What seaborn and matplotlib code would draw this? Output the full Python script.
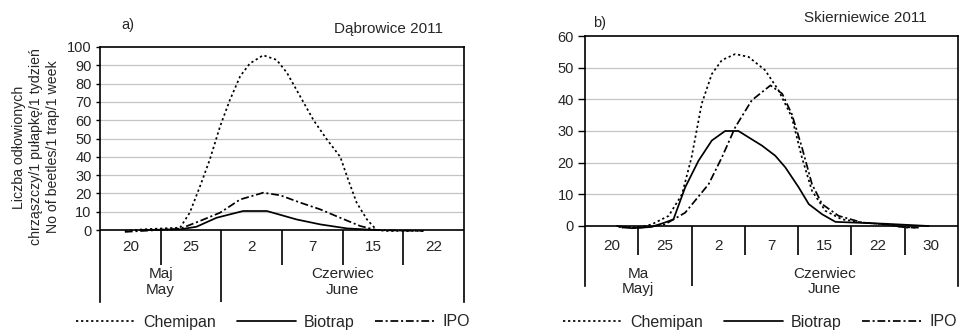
import matplotlib
matplotlib.use("Agg")
import matplotlib.pyplot as plt
import seaborn as sns
import pandas as pd

sns.set_theme(style="white")
plt.rcParams['font.family'] = ['Liberation Sans', 'DejaVu Sans']

# ---------------- data ----------------
series_names = ["Chemipan", "Biotrap", "IPO"]

# Panel a) Dąbrowice 2011 (x = position along the category axis, category centres at 0..5)
days_a = ["20", "25", "2", "7", "15", "22"]
months_a = ["Maj\nMay", "Czerwiec\nJune"]
month_span_a = [2, 4]

chem_a_x = [-0.09, 0.21, 0.82, 0.98, 1.15, 1.31, 1.48, 1.64, 1.81, 1.97, 2.19, 2.41, 2.58,
            2.80, 3.02, 3.24, 3.46, 3.59, 3.73, 3.90, 4.06, 4.23, 4.83]
chem_a_y = [-0.5, 0.4, 1.3, 9.5, 24, 38.5, 56.7, 71, 84, 91, 95.5, 93, 86,
            73, 60, 49.5, 40, 27.6, 15, 5.8, 0, -0.5, -0.5]
bio_a_x = [0.16, 0.82, 1.09, 1.42, 1.86, 2.25, 2.74, 3.13, 3.57, 4.06]
bio_a_y = [0, 0.4, 1.8, 6.7, 10.4, 10.4, 5.8, 3.1, 0.9, 0]
ipo_a_x = [-0.09, 0.82, 1.15, 1.48, 1.81, 2.19, 2.47, 2.80, 3.13, 3.46, 3.79, 4.06, 4.83]
ipo_a_y = [-1, 0.7, 5, 9.5, 16.7, 20.4, 19, 15, 11.3, 6.7, 2.2, 0, -0.5]

# Panel b) Skierniewice 2011 (category centres at 0..6)
days_b = ["20", "25", "2", "7", "15", "22", "30"]
months_b = ["Ma\nMayj", "Czerwiec\nJune"]
month_span_b = [2, 5]

chem_b_x = [0.13, 0.5, 0.75, 1.07, 1.32, 1.5, 1.69, 1.88, 2.07, 2.32, 2.57, 2.88, 3.13,
            3.38, 3.57, 3.76, 4.01, 4.32, 4.70, 5.14, 5.45, 5.70]
chem_b_y = [-0.3, -0.5, 0.5, 3.2, 10, 21.7, 38.6, 48, 52.4, 54.3, 53.4, 49.2, 42.9,
            34.4, 21.7, 11.1, 4.8, 2.1, 1.1, 0.5, -0.3, -0.5]
bio_b_x = [0.1, 0.38, 0.75, 1.0, 1.16, 1.38, 1.63, 1.88, 2.13, 2.38, 2.57, 2.82, 3.07,
           3.26, 3.51, 3.70, 3.95, 4.20, 4.51, 5.14, 5.95]
bio_b_y = [0, -0.7, -0.3, 1.1, 2.1, 12.2, 20.6, 27, 30, 30, 28, 25.4, 22.2,
           18.5, 12.2, 6.9, 3.7, 1.3, 1.1, 0.7, 0]
ipo_b_x = [0.19, 0.56, 1.0, 1.38, 1.82, 2.07, 2.32, 2.63, 2.98, 3.2, 3.38, 3.57, 3.76,
           3.95, 4.26, 4.70, 5.14, 5.52, 5.77]
ipo_b_y = [-0.5, -0.5, 0.5, 4.2, 13.2, 21.7, 31.2, 39.7, 44.4, 41.8, 35.4, 24.9, 13.2,
           6.9, 3.2, 1.1, 0.5, -0.5, -0.5]


def make_df(cx, cy, bx, by, ix, iy):
    frames = []
    for name, xs, ys in zip(series_names, [cx, bx, ix], [cy, by, iy]):
        frames.append(pd.DataFrame({"x": xs, "y": ys, "series": name}))
    return pd.concat(frames, ignore_index=True)


df_a = make_df(chem_a_x, chem_a_y, bio_a_x, bio_a_y, ipo_a_x, ipo_a_y)
df_b = make_df(chem_b_x, chem_b_y, bio_b_x, bio_b_y, ipo_b_x, ipo_b_y)

dashes = {"Chemipan": (1.3, 1.6), "Biotrap": "", "IPO": (4.5, 1.6, 1.2, 1.6)}

fig = plt.figure(figsize=(9.6, 3.32), dpi=100)
ax_a = fig.add_axes([100 / 960, 30 / 332, 364 / 960, 255 / 332])
ax_b = fig.add_axes([585 / 960, 46 / 332, 373 / 960, 250 / 332])

FS = 10.5


def draw_panel(ax, df, days, months, spans, ymax, ystep, ymin, short_len,
               day_y, month_y, ticklen):
    n = len(days)
    sns.lineplot(data=df, x="x", y="y", style="series", style_order=series_names,
                 dashes=dashes, color="black", linewidth=1.25, ax=ax,
                 legend=True, estimator=None, sort=False)
    ax.set_xlim(-0.5, n - 0.5)
    ax.set_ylim(ymin, ymax)
    ax.set_yticks(range(0, ymax + 1, ystep))
    ax.set_xticks([])
    ax.set_xlabel("")
    ax.set_ylabel("")
    for v in range(ystep, ymax, ystep):
        ax.axhline(v, color="#c4c4c4", linewidth=0.9, zorder=0)
    ax.axhline(0, color="black", linewidth=1.2, zorder=1)
    for s in ["left", "right", "top"]:
        ax.spines[s].set_visible(True)
        ax.spines[s].set_color("black")
        ax.spines[s].set_linewidth(1.2)
    ax.spines["bottom"].set_visible(False)
    ax.tick_params(axis="y", left=True, length=ticklen, width=1, color="black",
                   labelsize=FS, pad=3)
    # category table
    month_bounds = []
    acc = 0
    for s in spans:
        acc += s
        month_bounds.append(acc)
    for i in range(1, n):
        y_end = ymin if i in month_bounds else -short_len
        ax.plot([i - 0.5, i - 0.5], [0, y_end], color="black", linewidth=1.2,
                solid_capstyle="butt")
    for i, d in enumerate(days):
        ax.text(i, day_y, d, ha="center", va="center", fontsize=FS + 0.5)
    start = 0
    for m, s in zip(months, spans):
        ax.text(start + s / 2 - 0.5, month_y, m, ha="center", va="center",
                fontsize=FS + 0.5, linespacing=1.15)
        start += s
    handles, labels = ax.get_legend_handles_labels()
    ax.get_legend().remove()
    return handles, labels


h_a, l_a = draw_panel(ax_a, df_a, days_a, months_a, month_span_a, 100, 10, -39.3,
                      19, -9.3, -28.5, 3)
h_b, l_b = draw_panel(ax_b, df_b, days_b, months_b, month_span_b, 60, 10, -18.95,
                      9.2, -6.3, -17.5, 5)

fig.legend(h_a, l_a, loc="center", bbox_to_anchor=(273 / 960, 10 / 332), ncol=3,
           frameon=False, fontsize=FS + 1, handlelength=3.7, handletextpad=0.5,
           columnspacing=1.3, borderpad=0, borderaxespad=0)
fig.legend(h_b, l_b, loc="center right", bbox_to_anchor=(957 / 960, 10 / 332), ncol=3,
           frameon=False, fontsize=FS + 1, handlelength=3.7, handletextpad=0.5,
           columnspacing=1.3, borderpad=0, borderaxespad=0)

fig.text(36 / 960, 1 - 147 / 332,
         "Liczba odłowionych\nchrząszczy/1 pułapkę/1 tydzień\nNo of beetles/1 trap/1 week",
         rotation=90, ha="center", va="center", multialignment="center",
         fontsize=FS - 0.3, linespacing=1.25)

fig.text(128 / 960, 1 - 25 / 332, "a)", ha="center", va="center", fontsize=FS)
fig.text(443 / 960, 1 - 29 / 332, "Dąbrowice 2011", ha="right", va="center", fontsize=FS + 0.5)
fig.text(600 / 960, 1 - 23 / 332, "b)", ha="center", va="center", fontsize=FS)
fig.text(865 / 960, 1 - 18 / 332, "Skierniewice 2011", ha="center", va="center", fontsize=FS + 0.5)

fig.savefig("out.png", dpi=100)
